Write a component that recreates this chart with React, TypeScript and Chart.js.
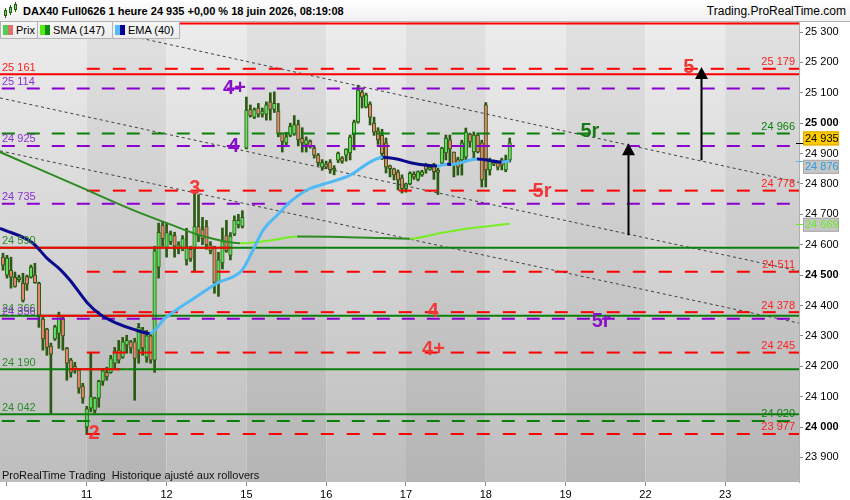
import React, { useEffect, useRef } from 'react';
import { Chart, registerables } from 'chart.js';

Chart.register(...registerables);

const FONT = '"Liberation Sans", Arial, Helvetica, sans-serif';

// ---- axes ----
const dayTickPositions = [1, 21, 41, 61, 81, 101, 121, 141, 161, 181];
const dayLabels = ['', '11', '12', '15', '16', '17', '18', '19', '22', '23'];
const yTickValues = [23900, 24000, 24100, 24200, 24300, 24400, 24500, 24600, 24700, 24800, 24900, 25000, 25100, 25200, 25300];

// ---- hourly candles (bar index = position in arrays) ----
const openPrices = [
  24559, 24500, 24516, 24493, 24485, 24473, 24495, 24493, 24500, 24473,
  24355, 24322, 24266, 24290, 24308, 24355, 24259, 24220, 24200, 24187,
  24135, 24000, 24062, 24055, 24095, 24150, 24180, 24180, 24210, 24253,
  24230, 24270, 24280, 24280, 24253, 24320, 24230, 24300, 24220, 24526,
  24665, 24590, 24610, 24630, 24600, 24590, 24550, 24585, 24585, 24660,
  24650, 24660, 24600, 24590, 24475, 24540, 24630, 24565, 24635, 24665,
  24660, 24918, 25045, 25020, 25050, 25030, 25030, 25070, 25045, 25040,
  24967, 24935, 24960, 24965, 24995, 24950, 24930, 24940, 24918, 24895,
  24855, 24865, 24872, 24845, 24878, 24885, 24895, 24902, 24961, 25004,
  25102, 25053, 25063, 25000, 24975, 24960, 24935, 24860, 24850, 24839,
  24820, 24785, 24800, 24832, 24815, 24830, 24862, 24848, 24862, 24845,
  24868, 24902, 24945, 24905, 24880, 24879, 24888, 24964, 24905, 24961,
  24935, 25060, 24846, 24872, 24870, 24879, 24846, 24879,
];
const highPrices = [
  24572, 24565, 24559, 24510, 24500, 24506, 24500, 24533, 24539, 24477,
  24361, 24325, 24276, 24335, 24378, 24361, 24262, 24226, 24213, 24193,
  24144, 24068, 24243, 24098, 24154, 24193, 24197, 24236, 24262, 24285,
  24295, 24302, 24285, 24292, 24341, 24328, 24318, 24308, 24595, 24671,
  24675, 24671, 24645, 24641, 24610, 24630, 24654, 24595, 24770, 24765,
  24690, 24680, 24610, 24595, 24575, 24655, 24680, 24640, 24695, 24700,
  24712, 25086, 25060, 25050, 25065, 25050, 25070, 25100, 25103, 25065,
  24967, 24970, 25000, 25025, 25010, 24985, 24955, 24945, 24925, 24900,
  24880, 24875, 24880, 24860, 24905, 24890, 24916, 24961, 25010, 25125,
  25109, 25099, 25070, 25020, 24985, 24980, 24951, 24862, 24852, 24846,
  24830, 24803, 24840, 24840, 24843, 24845, 24868, 24862, 24868, 24852,
  24921, 24961, 24961, 24905, 24888, 24944, 24984, 24967, 24971, 24967,
  24944, 25068, 24885, 24879, 24875, 24885, 24895, 24951,
];
const lowPrices = [
  24516, 24490, 24457, 24460, 24477, 24411, 24450, 24490, 24473, 24328,
  24253, 24236, 24045, 24285, 24259, 24253, 24154, 24164, 24177, 24111,
  24078, 23975, 24050, 24045, 24065, 24137, 24154, 24177, 24193, 24210,
  24226, 24243, 24243, 24088, 24210, 24236, 24213, 24210, 24180, 24490,
  24595, 24559, 24600, 24559, 24570, 24580, 24533, 24545, 24510, 24610,
  24600, 24585, 24570, 24440, 24430, 24520, 24575, 24550, 24630, 24655,
  24655, 24915, 25020, 25015, 25020, 25020, 25010, 25010, 25035, 24955,
  24905, 24925, 24955, 24960, 24925, 24905, 24905, 24918, 24885, 24860,
  24845, 24850, 24835, 24830, 24870, 24868, 24875, 24879, 24912, 25000,
  25050, 25050, 24994, 24960, 24930, 24880, 24836, 24823, 24813, 24780,
  24770, 24773, 24797, 24815, 24810, 24825, 24835, 24845, 24815, 24765,
  24862, 24879, 24862, 24823, 24829, 24829, 24879, 24921, 24879, 24902,
  24790, 24790, 24829, 24860, 24846, 24846, 24840, 24872,
];
const closePrices = [
  24533, 24556, 24493, 24463, 24492, 24417, 24470, 24526, 24475, 24368,
  24290, 24262, 24240, 24330, 24364, 24300, 24210, 24180, 24190, 24128,
  24095, 24060, 24100, 24095, 24150, 24185, 24165, 24225, 24250, 24220,
  24280, 24285, 24260, 24226, 24328, 24260, 24300, 24220, 24580, 24641,
  24620, 24640, 24633, 24595, 24585, 24620, 24590, 24555, 24660, 24630,
  24620, 24600, 24580, 24475, 24550, 24610, 24580, 24628, 24680, 24680,
  24690, 25043, 25025, 25045, 25030, 25040, 25060, 25045, 25065, 24965,
  24940, 24955, 24990, 24995, 24945, 24935, 24945, 24925, 24895, 24870,
  24870, 24855, 24846, 24850, 24901, 24875, 24915, 24954, 25004, 25109,
  25086, 25093, 25020, 24970, 24945, 24900, 24855, 24850, 24830, 24813,
  24785, 24800, 24835, 24822, 24840, 24840, 24848, 24855, 24840, 24838,
  24918, 24951, 24915, 24865, 24855, 24935, 24971, 24938, 24961, 24905,
  24813, 24846, 24879, 24865, 24855, 24862, 24879, 24935,
];

// ---- moving averages (read at bar positions) ----
const smaX = [-0.75, 20, 32.6, 41.1, 49.4, 59.4, 66.9, 73.7, 82, 92, 102, 109.5, 117, 127];
const smaValues = [24905, 24786, 24714, 24671, 24631, 24605, 24614, 24627, 24626, 24623, 24620, 24638, 24654, 24669];
const emaX = [-0.75, 7.5, 11, 14.3, 16.8, 21, 24.3, 28.6, 32.6, 36.8, 40.6, 44.4, 49.4, 53.6, 59.9, 61.9, 65.2, 68.7, 71.9, 76.2, 82, 87, 92, 95.2, 98.7, 102.8, 108.8, 111.3, 112.3, 118.8, 125, 127];
const emaValues = [24654, 24605, 24556, 24519, 24483, 24411, 24371, 24341, 24322, 24308, 24358, 24394, 24437, 24473, 24516, 24562, 24648, 24697, 24740, 24780, 24806, 24829, 24872, 24888, 24882, 24868, 24859, 24865, 24864, 24882, 24872, 24876];

// ---- horizontal levels ----
const redDashedLevels = [25179, 24778, 24511, 24378, 24245, 23977];
const redDashedStart = 21;
const purpleDashedLevels = [25114, 24925, 24735, 24356];
const greenDashedLevels = [24966, 24020];
const greenSolidLevels = [24590, 24366, 24190, 24042];
const redSolidLevels = [25328, 25161];
const redSolidLabelled = [false, true];
const redShortLevels = [24590, 24366, 24190];
const redShortFrom = [-0.75, 9.3, 16.8];
const redShortTo = [57, 37.6, 29.3];

// ---- channel lines (value at left edge / right edge) ----
const channelStart = [25381, 25083, 24909];
const channelEnd = [24805, 24513, 24342];

// ---- annotations ----
const annoText = ['4+', '4', '3', '2', '5', '5r', '5r', '4', '5r', '4+'];
const annoX = [58.0, 57.8, 48.1, 22.8, 171.9, 147.1, 135.1, 107.8, 149.9, 107.9];
const annoValue = [25117, 24926, 24788, 23982, 25188, 24977, 24780, 24382, 24352, 24257];
const annoKind = ['purple', 'purple', 'red', 'red', 'red', 'green', 'red', 'red', 'purple', 'red'];

const arrowX = [156.6, 174.9];
const arrowFrom = [24631, 24878];
const arrowTo = [24934, 25185];

const X_MIN = -0.75;
const X_MAX = 199.5;
const Y_MIN = 23819;
const Y_MAX = 25333;

const C = {
  red: '#ff0000',
  purple: '#8a00d0',
  green: '#0a800a',
  wick: '#2c5a12',
  up: '#5fe05f',
  down: '#e8836f',
  smaDown: '#2e8b22',
  smaUp: '#77ee22',
  emaDown: '#0a0a8c',
  emaUp: '#4fbaf5',
};
const annoColors: Record<string, string> = { purple: '#8a10c8', red: '#f03a3a', green: '#1a7a1a' };

function fmt(v: number) {
  const s = Math.round(v).toString();
  return s.slice(0, s.length - 3) + ' ' + s.slice(-3);
}

export default function App() {
  const ref = useRef<HTMLCanvasElement>(null);

  useEffect(() => {
    const canvas = ref.current as HTMLCanvasElement;
    const datasets: any[] = [];

    const hline = (v: number, from: number, to: number, color: string, dash: number[], order: number) => ({
      type: 'line',
      data: [{ x: from, y: v }, { x: to, y: v }],
      borderColor: color,
      borderWidth: 2,
      borderDash: dash,
      pointRadius: 0,
      order,
      clip: 0,
    });

    greenSolidLevels.forEach((v) => datasets.push(hline(v, X_MIN, X_MAX, C.green, [], 3)));
    redSolidLevels.forEach((v) => datasets.push(hline(v, X_MIN, X_MAX, C.red, [], 3)));
    redShortLevels.forEach((v, i) => datasets.push(hline(v, redShortFrom[i], redShortTo[i], C.red, [], 2)));
    redDashedLevels.forEach((v) => datasets.push(hline(v, redDashedStart, X_MAX, C.red, [13, 13], 3)));
    purpleDashedLevels.forEach((v) => datasets.push(hline(v, -0.3, X_MAX, C.purple, [13, 12], 3)));
    greenDashedLevels.forEach((v) => datasets.push(hline(v, -0.3, X_MAX, C.green, [13, 12], 3)));

    channelStart.forEach((v, i) =>
      datasets.push({
        type: 'line',
        data: [{ x: X_MIN, y: v }, { x: X_MAX, y: channelEnd[i] }],
        borderColor: '#404040',
        borderWidth: 1,
        borderDash: [3, 3],
        pointRadius: 0,
        order: 4,
        clip: 0,
      })
    );

    datasets.push({
      type: 'bar',
      data: highPrices.map((h, i) => ({ x: i, y: [lowPrices[i], h] })),
      backgroundColor: C.wick,
      barThickness: 2,
      grouped: false,
      order: 6,
    });
    datasets.push({
      type: 'bar',
      data: openPrices.map((o, i) => ({ x: i, y: [o, closePrices[i]] })),
      backgroundColor: openPrices.map((o, i) => (closePrices[i] >= o ? C.up : C.down)),
      borderColor: C.wick,
      borderWidth: 1,
      borderSkipped: false,
      barThickness: 3.5,
      minBarLength: 2,
      grouped: false,
      order: 5,
    });

    datasets.push({
      type: 'line',
      data: smaX.map((x, i) => ({ x, y: smaValues[i] })),
      borderWidth: 2,
      pointRadius: 0,
      cubicInterpolationMode: 'monotone',
      borderColor: C.smaDown,
      segment: { borderColor: (ctx: any) => (ctx.p1.parsed.y >= ctx.p0.parsed.y ? C.smaUp : C.smaDown) },
      order: 1,
      clip: 0,
    });
    datasets.push({
      type: 'line',
      data: emaX.map((x, i) => ({ x, y: emaValues[i] })),
      borderWidth: 3,
      pointRadius: 0,
      cubicInterpolationMode: 'monotone',
      borderColor: C.emaDown,
      segment: { borderColor: (ctx: any) => (ctx.p1.parsed.y >= ctx.p0.parsed.y ? C.emaUp : C.emaDown) },
      order: 0,
      clip: 0,
    });

    const decor = {
      id: 'decor',
      beforeDraw(chart: any) {
        const { ctx, chartArea: a, scales } = chart;
        const x = scales.x;
        ctx.save();
        ctx.fillStyle = '#ffffff';
        ctx.fillRect(0, 0, chart.width, chart.height);
        const gl = ctx.createLinearGradient(0, a.top, 0, a.bottom);
        gl.addColorStop(0, '#ececec');
        gl.addColorStop(1, '#bdbdbd');
        const gd = ctx.createLinearGradient(0, a.top, 0, a.bottom);
        gd.addColorStop(0, '#e1e1e1');
        gd.addColorStop(1, '#b4b4b4');
        const edges = [X_MIN, ...dayTickPositions, X_MAX];
        for (let i = 0; i < edges.length - 1; i++) {
          const l = x.getPixelForValue(edges[i]);
          const r = x.getPixelForValue(edges[i + 1]);
          const dark = i >= 1 && (i - 1) % 2 === 1;
          ctx.fillStyle = dark ? gd : gl;
          ctx.fillRect(l, a.top, r - l, a.bottom - a.top);
        }
        ctx.restore();
      },
      afterDatasetsDraw(chart: any) {
        const { ctx, chartArea: a, scales } = chart;
        const x = scales.x;
        const y = scales.y;
        ctx.save();
        ctx.beginPath();
        ctx.rect(a.left, a.top, a.right - a.left, a.bottom - a.top);
        ctx.clip();
        ctx.font = '11px ' + FONT;
        ctx.textBaseline = 'alphabetic';
        // left labels
        ctx.textAlign = 'left';
        const leftLabel = (v: number, color: string) => {
          ctx.fillStyle = color;
          ctx.fillText(fmt(v), a.left + 2, y.getPixelForValue(v) - 3.5);
        };
        greenSolidLevels.forEach((v) => leftLabel(v, '#2a8a2a'));
        purpleDashedLevels.forEach((v) => leftLabel(v, '#8a30d0'));
        redSolidLevels.forEach((v, i) => redSolidLabelled[i] && leftLabel(v, '#ff2020'));
        // right labels
        ctx.textAlign = 'right';
        const rightLabel = (v: number, color: string) => {
          ctx.fillStyle = color;
          ctx.fillText(fmt(v), a.right - 4, y.getPixelForValue(v) - 3.5);
        };
        redDashedLevels.forEach((v) => rightLabel(v, '#ff2020'));
        greenDashedLevels.forEach((v) => rightLabel(v, '#0a800a'));

        // annotations
        ctx.font = 'bold 20px ' + FONT;
        ctx.textAlign = 'center';
        ctx.textBaseline = 'middle';
        annoText.forEach((t, i) => {
          ctx.fillStyle = annoColors[annoKind[i]];
          ctx.fillText(t, x.getPixelForValue(annoX[i]), y.getPixelForValue(annoValue[i]) + 1);
        });

        // arrows
        ctx.strokeStyle = '#000';
        ctx.fillStyle = '#000';
        ctx.lineWidth = 2;
        arrowX.forEach((k, i) => {
          const px = Math.round(x.getPixelForValue(k)) + 0.5;
          const y0 = y.getPixelForValue(arrowFrom[i]);
          const y1 = y.getPixelForValue(arrowTo[i]);
          ctx.beginPath();
          ctx.moveTo(px, y0);
          ctx.lineTo(px, y1 + 10);
          ctx.stroke();
          ctx.beginPath();
          ctx.moveTo(px, y1);
          ctx.lineTo(px - 6.5, y1 + 12);
          ctx.lineTo(px + 6.5, y1 + 12);
          ctx.closePath();
          ctx.fill();
        });

        // footer text
        ctx.font = '11px ' + FONT;
        ctx.textAlign = 'left';
        ctx.textBaseline = 'alphabetic';
        ctx.fillStyle = '#111';
        ctx.fillText('ProRealTime Trading  Historique ajusté aux rollovers', a.left + 2, a.bottom - 3);
        ctx.restore();

        // price boxes on the axis
        const boxes = [
          { v: closePrices[closePrices.length - 1], bg: '#ffcc00', border: '#d9a900', fg: '#000', shift: -4.5, tick: '#000' },
          { v: emaValues[emaValues.length - 1], bg: '#c6c6c6', border: '#a8a8a8', fg: '#2f9ee0', shift: 6, tick: '#4fbaf5' },
          { v: smaValues[smaValues.length - 1], bg: '#c6c6c6', border: '#a8a8a8', fg: '#66ee22', shift: 1, tick: '#66ee22' },
        ];
        ctx.save();
        ctx.font = '11px ' + FONT;
        ctx.textAlign = 'left';
        ctx.textBaseline = 'middle';
        boxes.forEach((b) => {
          const py = y.getPixelForValue(b.v);
          ctx.strokeStyle = b.tick;
          ctx.lineWidth = 1;
          ctx.beginPath();
          ctx.moveTo(a.right - 3, Math.round(py) + 0.5);
          ctx.lineTo(a.right + 4, Math.round(py) + 0.5);
          ctx.stroke();
          const cy = py + b.shift;
          ctx.fillStyle = b.bg;
          ctx.fillRect(a.right + 4, cy - 7, 36, 14);
          ctx.strokeStyle = b.border;
          ctx.strokeRect(a.right + 4.5, cy - 6.5, 35, 13);
          ctx.fillStyle = b.fg;
          ctx.fillText(fmt(b.v), a.right + 6, cy + 0.5);
        });
        ctx.restore();
      },
    };

    const chart = new Chart(canvas, {
      type: 'bar',
      data: { datasets },
      options: {
        responsive: false,
        devicePixelRatio: 1,
        animation: false,
        events: [],
        layout: { padding: { top: 22, left: 0, right: 0, bottom: 0 } },
        plugins: { legend: { display: false }, tooltip: { enabled: false }, title: { display: false } },
        scales: {
          x: {
            type: 'linear',
            min: X_MIN,
            max: X_MAX,
            offset: false,
            afterBuildTicks: (s: any) => {
              s.ticks = dayTickPositions.map((v) => ({ value: v }));
            },
            afterFit: (s: any) => {
              s.height = 18;
            },
            grid: { drawOnChartArea: false, drawTicks: true, tickLength: 4, color: '#8a8a8a', offset: false },
            border: { display: false },
            ticks: {
              autoSkip: false,
              maxRotation: 0,
              padding: 2,
              color: '#000',
              font: { family: FONT, size: 11 },
              callback: (_v: any, i: number) => dayLabels[i],
            },
          },
          y: {
            type: 'linear',
            position: 'right',
            min: Y_MIN,
            max: Y_MAX,
            afterBuildTicks: (s: any) => {
              s.ticks = yTickValues.map((v) => ({ value: v }));
            },
            afterFit: (s: any) => {
              s.width = 51;
            },
            grid: { drawOnChartArea: false, drawTicks: true, tickLength: 4, color: '#8a8a8a' },
            border: { display: true, color: '#b0b0b0' },
            ticks: {
              padding: 2,
              color: '#000',
              font: (ctx: any) => ({
                family: FONT,
                size: 11,
                weight: ctx.tick && ctx.tick.value % 500 === 0 ? 'bold' : 'normal',
              }),
              callback: (v: any) => fmt(Number(v)),
            },
          },
        },
      } as any,
      plugins: [decor as any],
    } as any);

    return () => chart.destroy();
  }, []);

  const legendBox = (left: number, width: number, c1: string, c2: string, label: string) => (
    <div
      style={{
        position: 'absolute',
        left,
        top: 22,
        width,
        height: 17,
        boxSizing: 'border-box',
        background: 'linear-gradient(#f6f6f6, #ececec)',
        borderRight: '1px solid #b4b4b4',
        borderBottom: '1px solid #b4b4b4',
        borderLeft: left === 0 ? '1px solid #b4b4b4' : 'none',
      }}
    >
      <div style={{ position: 'absolute', left: 2, top: 3, width: 5, height: 10, background: c1 }} />
      <div style={{ position: 'absolute', left: 7, top: 3, width: 5, height: 10, background: c2 }} />
      <div
        style={{
          position: 'absolute',
          left: 15,
          top: 1,
          font: '11px ' + FONT,
          lineHeight: '14px',
          color: '#000',
          whiteSpace: 'nowrap',
        }}
      >
        {label}
      </div>
    </div>
  );

  const iconCandle = (left: number, top: number, h: number, wt: number, wh: number) => (
    <>
      <div style={{ position: 'absolute', left: left + 1, top: wt, width: 1, height: wh, background: '#2c5a12' }} />
      <div
        style={{
          position: 'absolute',
          left,
          top,
          width: 3,
          height: h,
          boxSizing: 'border-box',
          background: '#5fe05f',
          border: '1px solid #2c5a12',
        }}
      />
    </>
  );

  return (
    <div style={{ position: 'fixed', left: 0, top: 0, width: 850, height: 500, overflow: 'hidden', background: '#fff' }}>
      <canvas ref={ref} width={850} height={500} style={{ position: 'absolute', left: 0, top: 0 }} />
      <div
        style={{
          position: 'absolute',
          left: 0,
          top: 0,
          width: 850,
          height: 21,
          background: 'linear-gradient(#ffffff, #f0f0f0)',
          borderBottom: '1px solid #b4b4b4',
        }}
      >
        {iconCandle(4, 10, 6, 8, 10)}
        {iconCandle(9, 7, 6, 5, 10)}
        {iconCandle(14, 4, 6, 2, 10)}
        <div
          style={{
            position: 'absolute',
            left: 23,
            top: 4,
            font: 'bold 11px ' + FONT,
            lineHeight: '14px',
            color: '#000',
            whiteSpace: 'nowrap',
          }}
        >
          DAX40 Full0626 1 heure 24 935 +0,00 % 18 juin 2026, 08:19:08
        </div>
        <div
          style={{
            position: 'absolute',
            right: 4,
            top: 4,
            font: '12px ' + FONT,
            lineHeight: '14px',
            color: '#000',
            whiteSpace: 'nowrap',
          }}
        >
          Trading.ProRealTime.com
        </div>
      </div>
      {legendBox(0, 38, '#55cc55', '#e07070', 'Prix')}
      {legendBox(38, 75, '#55ee11', '#118811', 'SMA (147)')}
      {legendBox(113, 67, '#55bbff', '#000099', 'EMA (40)')}
    </div>
  );
}
